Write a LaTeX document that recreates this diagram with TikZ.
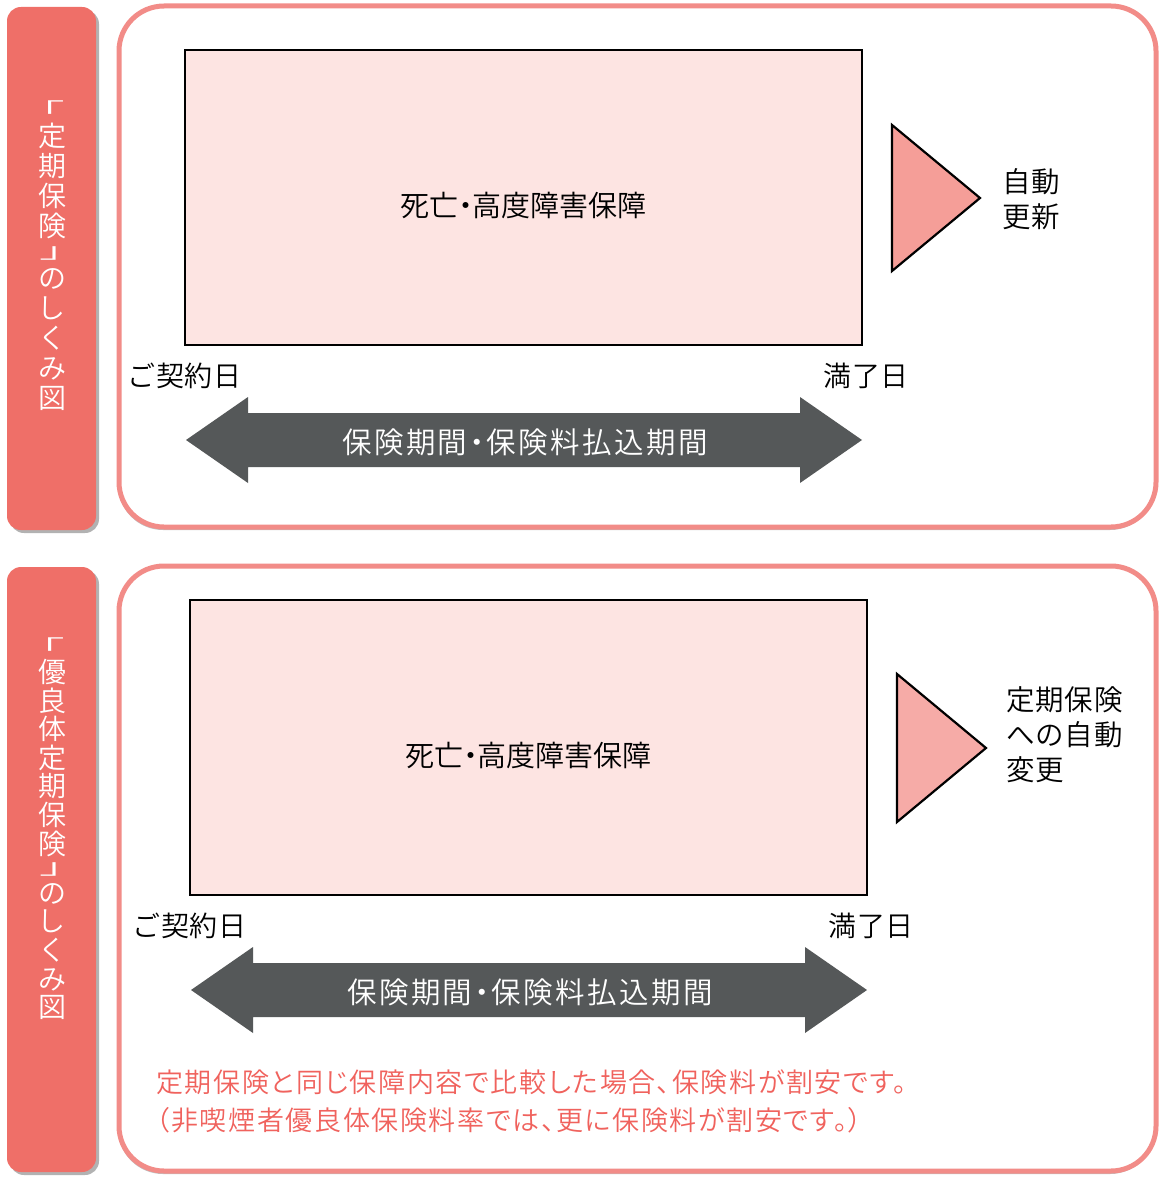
\documentclass[tikz,border=0pt]{standalone}
\usepackage{fontspec}
\newfontfamily\cjk[RawFeature=+palt]{Noto Sans CJK JP DemiLight}
\newfontfamily\cjkfix{Noto Sans CJK JP DemiLight}
\usetikzlibrary{shadows}
\definecolor{tabred}{HTML}{EF6F68}
\definecolor{outerpink}{HTML}{F28C88}
\definecolor{boxfill}{HTML}{FDE4E2}
\definecolor{trifillA}{HTML}{F59E98}
\definecolor{trifillB}{HTML}{F6ABA7}
\definecolor{arrowgray}{HTML}{555859}
\definecolor{notered}{HTML}{F0625D}
\newcommand{\brL}{\scalebox{1.7}[0.75]{「}}
\newcommand{\brR}{\scalebox{1.7}[0.75]{」}}
\newcommand{\lowered}[1]{\raisebox{-8pt}[\height][\depth]{#1}}
\tikzset{
  tabbox/.style={fill=tabred, rounded corners=14pt,
    drop shadow={shadow xshift=3pt, shadow yshift=-3pt, opacity=0.3, fill=black}},
  outerbox/.style={draw=outerpink, line width=5pt, fill=white, rounded corners=45pt,
    drop shadow={shadow xshift=-1pt, shadow yshift=-3pt, opacity=0.25, fill=black}},
  covbox/.style={draw=black, line width=2.2pt, fill=boxfill, inner sep=0pt,
    font=\cjk\fontsize{29}{30}\selectfont},
  tri/.style={draw=black, line width=2.2pt, line join=miter},
  bigarrow/.style={fill=arrowgray},
  arrowtext/.style={text=white, font=\cjk\addfontfeature{LetterSpace=8}\fontsize{29.5}{31}\selectfont, inner sep=0pt},
  datelabel/.style={font=\cjkfix\addfontfeature{LetterSpace=3}\fontsize{28}{30}\selectfont, anchor=west, inner sep=0pt},
  sidelabel/.style={font=\cjkfix\addfontfeature{LetterSpace=3}\fontsize{28.5}{35}\selectfont, inner sep=0pt},
  tabtext/.style={text=white, align=center, inner sep=0pt},
  notetext/.style={text=notered, align=left, anchor=west, font=\cjk\addfontfeature{LetterSpace=6}\fontsize{27}{38}\selectfont, inner sep=0pt},
}
\begin{document}
\begin{tikzpicture}[x=1pt,y=-1pt]
\useasboundingbox (0,0) rectangle (1162,1177);

% ===== Top section =====
\path[tabbox] (7,7) rectangle (96,530);
\node[tabtext, font=\cjk\fontsize{28}{30}\selectfont] (tab1) at (52,256) {\brL\\[-2pt]定\\期\\保\\険\\[-8pt]\brR\\の\\し\\く\\み\\図};
\path[outerbox] (119,6) rectangle (1156,527);
\node[covbox, minimum width=677pt, minimum height=295pt] (cov1) at (523.5,197.5) {\lowered{死亡・高度障害保障}};
\draw[tri, fill=trifillA] (892,125) -- (892,271) -- (980,198) -- cycle;
\node[sidelabel, align=center] (renew1) at (1031,199) {自動\\更新};
\node[datelabel] (start1) at (127,376) {ご契約日};
\node[datelabel] (end1) at (823,376) {満了日};
\fill[bigarrow] (186,440) -- (248,397) -- (248,413) -- (800,413) -- (800,397) -- (862,440)
  -- (800,483) -- (800,467) -- (248,467) -- (248,483) -- cycle;
\node[arrowtext] (per1) at (525,442) {保険期間・保険料払込期間};

% ===== Bottom section =====
\path[tabbox] (7,567) rectangle (96,1172);
\node[tabtext, font=\cjk\fontsize{28}{28.6}\selectfont] (tab2) at (52,829) {\brL\\[-2pt]優\\良\\体\\定\\期\\保\\険\\[-8pt]\brR\\の\\し\\く\\み\\図};
\path[outerbox] (119,566) rectangle (1156,1171);
\node[covbox, minimum width=677pt, minimum height=295pt] (cov2) at (528.5,747.5) {\lowered{死亡・高度障害保障}};
\draw[tri, fill=trifillB] (897,674) -- (897,822) -- (986,748) -- cycle;
\node[sidelabel, align=left, anchor=west] (renew2) at (1006,735) {定期保険\\への自動\\変更};
\node[datelabel] (start2) at (132,926) {ご契約日};
\node[datelabel] (end2) at (828,926) {満了日};
\fill[bigarrow] (191,990) -- (253,947) -- (253,963) -- (805,963) -- (805,947) -- (867,990)
  -- (805,1033) -- (805,1017) -- (253,1017) -- (253,1033) -- cycle;
\node[arrowtext] (per2) at (530,992) {保険期間・保険料払込期間};
\node[notetext] (note) at (156,1101) {定期保険と同じ保障内容で比較した場合、保険料が割安です。\\（非喫煙者優良体保険料率では、更に保険料が割安です。）};
\end{tikzpicture}
\end{document}
